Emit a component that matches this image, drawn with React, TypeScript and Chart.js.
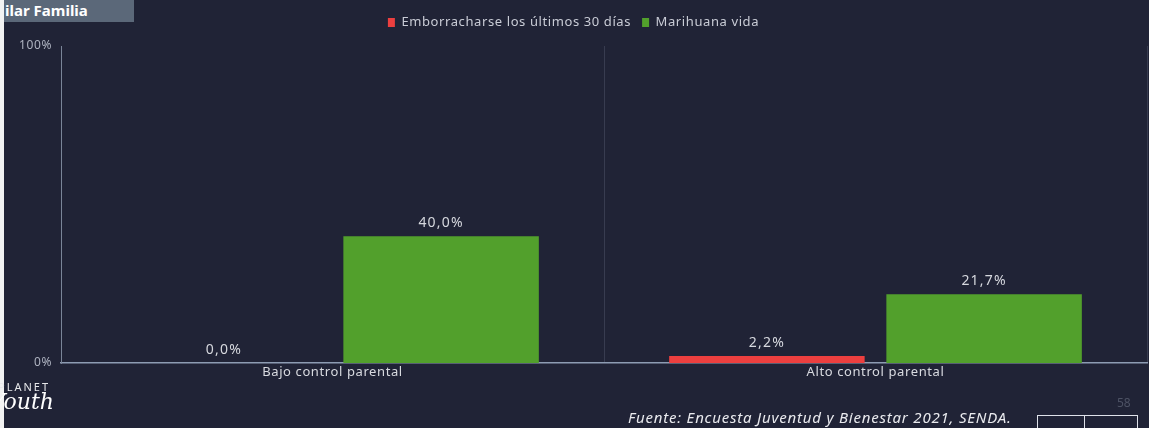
import React, { useEffect, useRef } from "react";
import { Chart, registerables } from "chart.js";

Chart.register(...registerables);

const categories = ["Bajo control parental", "Alto control parental"];
const seriesNames = ["Emborracharse los últimos 30 días", "Marihuana vida"];
const emborracharse = [0.0, 2.2];
const marihuana = [40.0, 21.7];
const yTicks = [0, 100];

const BG = "#202336";
const FONT = "'Noto Sans', sans-serif";

const spacing = {
  id: "spacing",
  afterInit(chart: any) {
    const legend = chart.legend;
    if (legend && !legend.__wrapped) {
      const orig = legend.fit;
      legend.fit = function () {
        orig.call(this);
        this.height = 41;
      };
      legend.__wrapped = true;
    }
  },
  beforeLayout(chart: any) {
    chart.ctx.letterSpacing = "0.6px";
  },
  beforeDraw(chart: any) {
    chart.ctx.letterSpacing = "0.6px";
  },
};

const dataLabels = {
  id: "dataLabels",
  afterDatasetsDraw(chart: any) {
    const ctx = chart.ctx;
    ctx.save();
    ctx.letterSpacing = "1.2px";
    ctx.font = "14px " + FONT;
    ctx.fillStyle = "#d6d8de";
    ctx.textAlign = "center";
    ctx.textBaseline = "bottom";
    chart.data.datasets.forEach((ds: any, i: number) => {
      const meta = chart.getDatasetMeta(i);
      meta.data.forEach((el: any, j: number) => {
        const v = ds.data[j];
        const label = v.toFixed(1).replace(".", ",") + "%";
        ctx.fillText(label, el.x, el.y - 6);
      });
    });
    ctx.restore();
  },
};

export default function App() {
  const ref = useRef<HTMLCanvasElement | null>(null);

  useEffect(() => {
    document.body.style.margin = "0";
    document.body.style.background = BG;
    const chart = new Chart(ref.current!, {
      type: "bar",
      data: {
        labels: categories,
        datasets: [
          { label: seriesNames[0], data: emborracharse, backgroundColor: "#ec3f3f" },
          { label: seriesNames[1], data: marihuana, backgroundColor: "#52a02c" },
        ],
      },
      options: {
        animation: false,
        responsive: false,
        maintainAspectRatio: false,
        layout: { padding: { top: 5, right: 2, left: 0, bottom: 0 } },
        plugins: {
          legend: {
            display: true,
            position: "top",
            labels: {
              color: "#c9ccd6",
              font: { size: 13, family: FONT },
              boxWidth: 7,
              boxHeight: 9,
              padding: 11,
            },
          },
          tooltip: { enabled: false },
        },
        scales: {
          x: {
            grid: {
              display: true,
              offset: true,
              color: "rgba(140,150,175,0.22)",
              drawTicks: false,
            },
            border: { display: true, color: "#8d9cb3", width: 1.5 },
            ticks: {
              color: "#d8dae0",
              font: { size: 13, family: FONT },
              padding: 1,
            },
            afterFit(scale: any) {
              scale.height = 65;
            },
          },
          y: {
            min: 0,
            max: 100,
            afterBuildTicks(scale: any) {
              scale.ticks = yTicks.map((v) => ({ value: v }));
            },
            grid: { display: false, drawTicks: false },
            border: { display: true, color: "#7a8598" },
            ticks: {
              color: "#aeb3c0",
              font: { size: 12, family: FONT },
              padding: 9,
              callback: (v: any) => v + "%",
            },
            afterFit(scale: any) {
              scale.width = 61;
            },
          },
        },
      },
      plugins: [spacing, dataLabels],
    });
    return () => chart.destroy();
  }, []);

  return (
    <div
      style={{
        position: "fixed",
        left: 0,
        top: 0,
        width: 1149,
        height: 428,
        background: BG,
        overflow: "hidden",
        fontFamily: FONT,
      }}
    >
      <canvas ref={ref} width={1149} height={428} style={{ position: "absolute", left: 0, top: 0 }} />
      <div style={{ position: "absolute", left: 0, top: 0, width: 4, height: 428, background: "#f2f2f2" }} />
      <div
        style={{
          position: "absolute",
          left: 4,
          top: 0,
          width: 129,
          height: 22,
          background: "#5b6879",
          color: "#ffffff",
          fontWeight: 700,
          fontSize: 15,
          lineHeight: "20px",
          paddingLeft: 1,
          whiteSpace: "nowrap",
          overflow: "hidden",
        }}
      >
        ilar Familia
      </div>
      <div
        style={{
          position: "absolute",
          left: -2,
          top: 381,
          color: "#e6e7ea",
          fontSize: 11,
          letterSpacing: 2,
          lineHeight: "12px",
        }}
      >
        PLANET
      </div>
      <div
        style={{
          position: "absolute",
          left: -9,
          top: 390,
          color: "#ffffff",
          fontSize: 22,
          lineHeight: "24px",
          fontStyle: "italic",
          fontFamily: "'DejaVu Serif', serif",
        }}
      >
        Youth
      </div>
      <div
        style={{
          position: "absolute",
          left: 628,
          top: 408,
          color: "#e9eaee",
          fontSize: 15,
          letterSpacing: 0.8,
          lineHeight: "18px",
          fontStyle: "italic",
          whiteSpace: "nowrap",
        }}
      >
        Fuente: Encuesta Juventud y Bienestar 2021, SENDA.
      </div>
      <div style={{ position: "absolute", left: 1117, top: 394, color: "#4d5264", fontSize: 12 }}>58</div>
      <div
        style={{
          position: "absolute",
          left: 1037,
          top: 415,
          width: 46,
          height: 20,
          border: "1px solid #dfe2ea",
        }}
      />
      <div
        style={{
          position: "absolute",
          left: 1084,
          top: 415,
          width: 52,
          height: 20,
          border: "1px solid #dfe2ea",
        }}
      />
    </div>
  );
}
